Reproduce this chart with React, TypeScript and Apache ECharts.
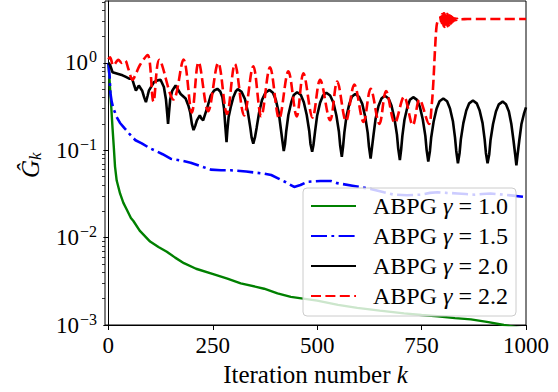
import React, { useEffect, useRef } from "react";
import * as echarts from "echarts";

const FONT = "Liberation Serif, DejaVu Serif, serif";

const xTicks = [0, 250, 500, 750, 1000];
const yMin = 0.001;
const yMax = 5.1;
const yMajorTicks = [0.001, 0.01, 0.1, 1];
const yMajorExponents = ["\u22123", "\u22122", "\u22121", "0"];
const yMinorTicks = [
  0.002, 0.003, 0.004, 0.005, 0.006, 0.007, 0.008, 0.009,
  0.02, 0.03, 0.04, 0.05, 0.06, 0.07, 0.08, 0.09,
  0.2, 0.3, 0.4, 0.5, 0.6, 0.7, 0.8, 0.9,
  2, 3, 4, 5,
];

const seriesNames = ["ABPG γ = 1.0", "ABPG γ = 1.5", "ABPG γ = 2.0", "ABPG γ = 2.2"];

const green10 = [
  [0, 1.0], [2, 0.75], [4, 0.52], [7, 0.31], [10, 0.18], [13, 0.11], [16, 0.065],
  [20, 0.045], [24, 0.038], [28, 0.032], [36, 0.025], [44, 0.021], [54, 0.0168],
  [60, 0.0155], [75, 0.012], [100, 0.009], [120, 0.0078], [140, 0.0069], [160, 0.0059],
  [181, 0.0051], [210, 0.0044], [253, 0.0038], [285, 0.0034], [317, 0.003], [373, 0.0026],
  [405, 0.0023], [437, 0.0021], [500, 0.0019], [550, 0.0017], [596, 0.00157], [650, 0.00146],
  [708, 0.00136], [750, 0.0013], [788, 0.00126], [830, 0.0012], [868, 0.00116],
  [910, 0.00108], [947, 0.001], [980, 0.00094], [1000, 0.0009],
];

const blue15 = [
  [0, 1.0], [3, 0.7], [5, 0.45], [8, 0.36], [12, 0.3], [16, 0.27], [20, 0.24],
  [28, 0.205], [38, 0.18], [50, 0.155], [65, 0.13], [80, 0.12], [100, 0.105], [110, 0.1],
  [130, 0.09], [149, 0.08], [175, 0.076], [197, 0.072], [220, 0.066], [245, 0.06],
  [270, 0.059], [293, 0.059], [330, 0.057], [373, 0.054], [390, 0.052], [405, 0.048],
  [425, 0.043], [445, 0.038], [460, 0.04], [476, 0.0435], [508, 0.0445], [532, 0.0445],
  [548, 0.042], [588, 0.039], [628, 0.036], [660, 0.033], [684, 0.031], [715, 0.0305],
  [748, 0.031], [770, 0.0325], [788, 0.033], [810, 0.0325], [836, 0.032], [856, 0.0315],
  [876, 0.031], [895, 0.0315], [915, 0.032], [930, 0.0315], [947, 0.031], [975, 0.03],
  [1000, 0.029],
];

const black20 = [
  [0, 1.0], [4, 0.95], [10, 0.78], [22, 0.75], [34, 0.72], [42, 0.69], [50, 0.66],
  [57, 0.66], [62, 0.55], [66, 0.48], [73, 0.55], [81, 0.48], [86, 0.4], [90, 0.355],
  [94, 0.42], [97, 0.48], [109, 0.6], [118, 0.63], [125, 0.64], [133, 0.53], [138, 0.38],
  [141, 0.26], [143, 0.2], [145, 0.26], [148, 0.38], [153, 0.48], [161, 0.55], [173, 0.44],
  [185, 0.39], [192, 0.32], [196, 0.27], [200, 0.2], [204, 0.17], [208, 0.19], [212, 0.22],
  [219, 0.25], [223, 0.23], [227, 0.22], [237, 0.31], [245, 0.42], [253, 0.48], [261, 0.505],
  [268, 0.47], [273, 0.405], [277, 0.3], [280, 0.19], [283, 0.124], [285, 0.17], [288, 0.24],
  [293, 0.31], [299, 0.4], [305, 0.47], [310, 0.5],
  [319, 0.465], [327, 0.385], [334, 0.275], [340, 0.18], [343, 0.14], [347, 0.119],
  [351, 0.14], [355, 0.18], [361, 0.27], [368, 0.377], [376, 0.455], [386, 0.49],
  [394, 0.455], [401, 0.377], [408, 0.27], [413, 0.176], [417, 0.125], [420, 0.098],
  [423, 0.118], [426, 0.166], [431, 0.253], [438, 0.354], [444, 0.428], [452, 0.46],
  [461, 0.428], [468, 0.354], [475, 0.253], [481, 0.166], [484, 0.118], [488, 0.096],
  [491, 0.114], [495, 0.164], [500, 0.25], [507, 0.35], [514, 0.423], [522, 0.455],
  [531, 0.423], [539, 0.35], [546, 0.25], [552, 0.164], [555, 0.114], [559, 0.084],
  [562, 0.11], [565, 0.158], [570, 0.242], [577, 0.339], [583, 0.409], [591, 0.44],
  [600, 0.409], [608, 0.339], [615, 0.242], [621, 0.158], [624, 0.11], [628, 0.08],
  [631, 0.105], [635, 0.151], [640, 0.231], [647, 0.323], [654, 0.39], [662, 0.42],
  [671, 0.39], [678, 0.323], [685, 0.231], [691, 0.151], [694, 0.105], [698, 0.077],
  [701, 0.101], [704, 0.146], [709, 0.223], [716, 0.312], [722, 0.377], [730, 0.405],
  [739, 0.377], [746, 0.312], [753, 0.223], [759, 0.146], [762, 0.101], [766, 0.074],
  [770, 0.098], [773, 0.14], [779, 0.215], [786, 0.3], [793, 0.363], [802, 0.39],
  [811, 0.363], [818, 0.3], [825, 0.215], [830, 0.14], [833, 0.098], [837, 0.071],
  [841, 0.093], [844, 0.133], [850, 0.204], [857, 0.285], [864, 0.344], [873, 0.37],
  [882, 0.344], [889, 0.285], [896, 0.204], [901, 0.133], [904, 0.093], [908, 0.071],
  [912, 0.09], [915, 0.13], [921, 0.198], [928, 0.277], [935, 0.335], [944, 0.36],
  [952, 0.335], [959, 0.277], [965, 0.198], [970, 0.13], [974, 0.09], [977, 0.067],
  [980, 0.09], [984, 0.13], [989, 0.198], [995, 0.26], [1000, 0.31],
];

const red22 = [
  [0, 1.1], [4, 1.16], [12, 0.93], [24, 1.08], [32, 1.0], [40, 1.06], [48, 0.85],
  [58, 0.64], [66, 0.75], [76, 0.95], [94, 1.23], [108, 0.36], [122, 1.08], [156, 0.38],
  [180, 1.09], [200, 0.27], [216, 1.02], [239, 0.28], [263, 1.0], [284, 0.26], [303, 0.97],
  [325, 0.25], [347, 0.915], [366, 0.244], [387, 0.89], [409, 0.23], [431, 0.8],
  [451, 0.244], [467, 0.76], [489, 0.236], [507, 0.64], [531, 0.22], [548, 0.61],
  [569, 0.216], [589, 0.565], [611, 0.21], [628, 0.505], [649, 0.2], [665, 0.475],
  [686, 0.205], [708, 0.41], [729, 0.193], [745, 0.38], [768, 0.2], [774, 0.32],
  [778, 0.58], [782, 1.38], [786, 2.66], [790, 3.1], [794, 3.17],
  [795, 3.35], [796, 3.0], [797, 3.5], [798, 2.85], [799, 3.6], [800, 2.75], [801, 3.65],
  [802, 2.65], [803, 3.7], [804, 2.6], [805, 3.7], [806, 2.58], [807, 3.7], [808, 2.58],
  [809, 3.68], [810, 2.6], [811, 3.65], [812, 2.62], [813, 3.6], [814, 2.66], [815, 3.55],
  [816, 2.7], [817, 3.5], [818, 2.75], [819, 3.45], [820, 2.8], [821, 3.4], [822, 2.86],
  [823, 3.35], [824, 2.92], [825, 3.3], [826, 2.97], [827, 3.27], [828, 3.02], [829, 3.24],
  [830, 3.06], [832, 3.22], [833, 3.1], [835, 3.2], [836, 3.13], [840, 3.19], [845, 3.15],
  [860, 3.17], [1000, 3.17],
];

const colors = ["#008000", "#0000ff", "#000000", "#ff0000"];

export default function App() {
  const ref = useRef<HTMLDivElement>(null);
  useEffect(() => {
    document.body.style.margin = "0";
    if (!ref.current) return;
    const chart = echarts.init(ref.current, null, { renderer: "svg" });
    const labelValues = [...yMajorTicks, yMax];
    const option: any = {
      animation: false,
      grid: {
        left: 105,
        right: 32,
        top: 1,
        bottom: 67,
        show: true,
        borderColor: "#000",
        borderWidth: 1,
      },
      graphic: [
        {
          type: "text",
          x: 30,
          y: 178,
          rotation: Math.PI / 2,
          style: {
            text: "{g|Ĝ}{k|k}",
            align: "left",
            verticalAlign: "middle",
            fill: "#000",
            rich: {
              g: { fontFamily: FONT, fontStyle: "italic", fontSize: 25, fill: "#000" },
              k: { fontFamily: FONT, fontStyle: "italic", fontSize: 17, fill: "#000", padding: [10, 0, 0, 0] },
            },
          },
        },
      ],
      xAxis: {
        type: "value",
        min: -8,
        max: 1000,
        axisLine: { show: true, onZero: false, lineStyle: { color: "#000", width: 1 } },
        axisTick: { show: true, customValues: xTicks, length: 5, lineStyle: { color: "#000", width: 1 } },
        axisLabel: {
          customValues: xTicks,
          margin: 9,
          color: "#000",
          fontFamily: FONT,
          fontSize: 23,
          formatter: (v: number) => String(v),
        },
        splitLine: { show: false },
        name: "Iteration number {k|k}",
        nameLocation: "middle",
        nameGap: 33,
        nameTextStyle: {
          color: "#000",
          fontFamily: FONT,
          fontSize: 25,
          rich: { k: { fontStyle: "italic", fontFamily: FONT, fontSize: 25, color: "#000" } },
        },
      },
      yAxis: [
        {
          type: "log",
          logBase: 10,
          min: yMin,
          max: yMax,
          axisLine: { show: true, lineStyle: { color: "#000", width: 1 } },
          axisTick: { show: true, customValues: yMajorTicks, length: 5, lineStyle: { color: "#000", width: 1 } },
          axisLabel: {
            customValues: labelValues,
            margin: 8,
            color: "#000",
            fontFamily: FONT,
            formatter: (v: number) => {
              if (v > 2) return "";
              let idx = 0;
              let best = Infinity;
              yMajorTicks.forEach((t, i) => {
                const d = Math.abs(Math.log(v) - Math.log(t));
                if (d < best) { best = d; idx = i; }
              });
              return `{b|10}{s|${yMajorExponents[idx]}}`;
            },
            rich: {
              b: { fontFamily: FONT, fontSize: 23, color: "#000" },
              s: { fontFamily: FONT, fontSize: 16, color: "#000", padding: [0, 0, 12, 1] },
            },
          },
          splitLine: { show: false },
        },
        {
          type: "log",
          logBase: 10,
          min: yMin,
          max: yMax,
          position: "left",
          offset: 0,
          axisLine: { show: false },
          axisTick: { show: true, customValues: yMinorTicks, length: 3, lineStyle: { color: "#000", width: 0.8 } },
          axisLabel: { show: false },
          splitLine: { show: false },
        },
      ],
      legend: {
        orient: "vertical",
        left: 303,
        top: 188,
        align: "left",
        itemWidth: 45,
        itemHeight: 14,
        itemGap: 6,
        padding: [6, 8, 8, 7],
        backgroundColor: "rgba(255,255,255,0.8)",
        borderColor: "#cccccc",
        borderWidth: 1,
        borderRadius: 4,
        data: seriesNames,
        itemStyle: { opacity: 0 },
        formatter: (name: string) => name.replace("γ", "{g|γ}"),
        textStyle: {
          color: "#000",
          fontFamily: FONT,
          fontSize: 24,
          lineHeight: 24,
          padding: [0, 0, 0, 12],
          rich: {
            g: { fontFamily: FONT, fontStyle: "italic", fontSize: 24, color: "#000" },
          },
        },
      },
      series: [
        {
          name: seriesNames[0], type: "line", data: green10, symbol: "none", showSymbol: false,
          lineStyle: { color: colors[0], width: 2.4, type: "solid" }, itemStyle: { color: colors[0] },
        },
        {
          name: seriesNames[1], type: "line", data: blue15, symbol: "none", showSymbol: false,
          lineStyle: { color: colors[1], width: 2.6, type: [16, 4.4, 2.8, 4.4] }, itemStyle: { color: colors[1] },
        },
        {
          name: seriesNames[2], type: "line", data: black20, symbol: "none", showSymbol: false,
          lineStyle: { color: colors[2], width: 2.6, type: "solid" }, itemStyle: { color: colors[2] },
        },
        {
          name: seriesNames[3], type: "line", data: red22, symbol: "none", showSymbol: false, smooth: 0.35,
          lineStyle: { color: colors[3], width: 2.6, type: [10, 4.4] }, itemStyle: { color: colors[3] },
        },
      ],
    };
    chart.setOption(option);
    return () => chart.dispose();
  }, []);
  return <div ref={ref} style={{ width: 558, height: 392 }} />;
}
